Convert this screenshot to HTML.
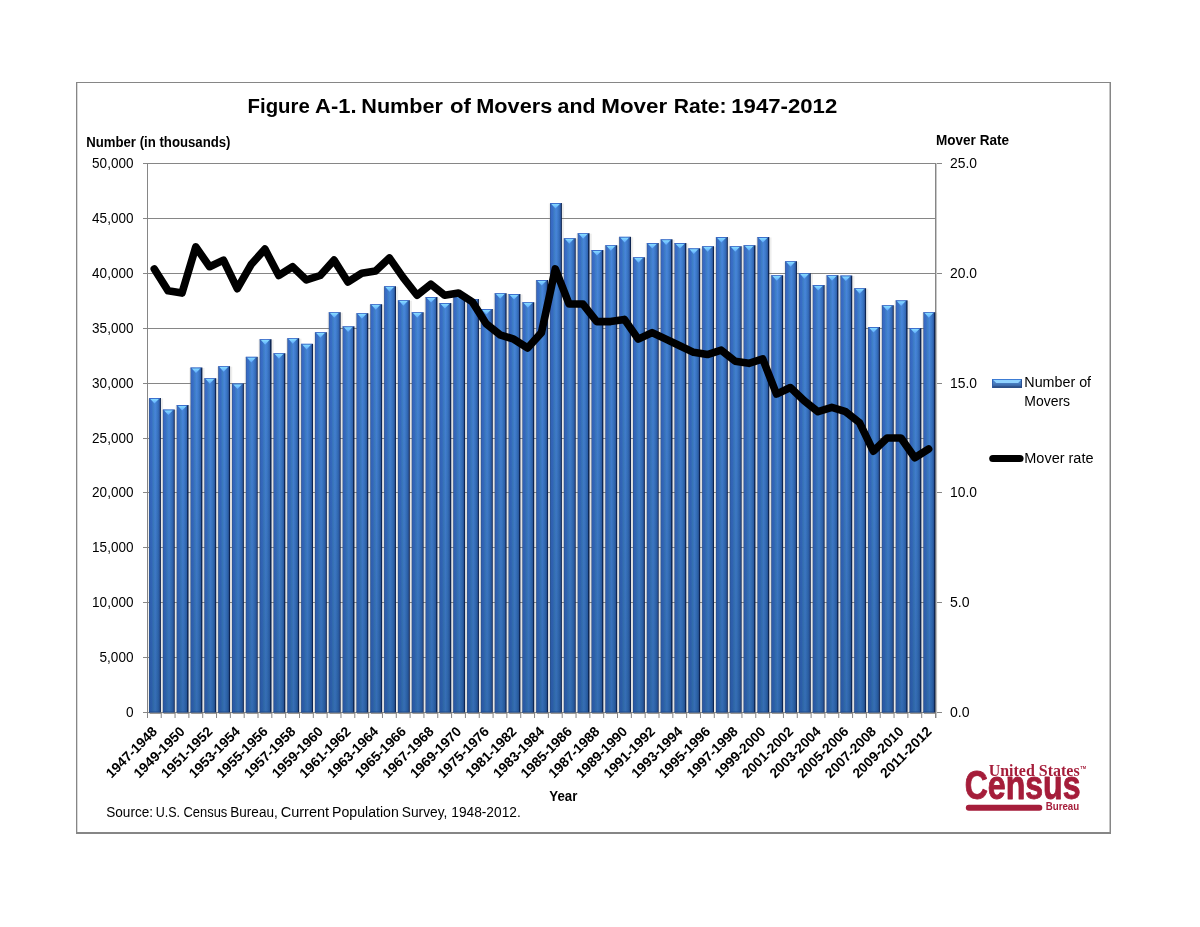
<!DOCTYPE html>
<html><head><meta charset="utf-8"><title>Figure A-1. Number of Movers and Mover Rate: 1947-2012</title>
<style>html,body{margin:0;padding:0;background:#fff;}body{width:1200px;height:927px;overflow:hidden;font-family:"Liberation Sans",sans-serif;}svg{display:block;will-change:transform;}text{font-family:"Liberation Sans",sans-serif;fill:#000;}</style>
</head><body>
<svg width="1200" height="927" viewBox="0 0 1200 927">
<defs>
<linearGradient id="bg" x1="0" y1="0" x2="1" y2="0"><stop offset="0" stop-color="#33528c"/><stop offset="0.09" stop-color="#376ac2"/><stop offset="0.22" stop-color="#396ec8"/><stop offset="0.36" stop-color="#3f80c6"/><stop offset="0.52" stop-color="#4885dc"/><stop offset="0.68" stop-color="#3d7bc8"/><stop offset="0.82" stop-color="#3367b8"/><stop offset="0.905" stop-color="#2a5090"/><stop offset="0.91" stop-color="#0e2855"/><stop offset="1" stop-color="#0c2350"/></linearGradient>
<linearGradient id="tg" x1="0" y1="0" x2="0" y2="1"><stop offset="0" stop-color="#86dcff"/><stop offset="1" stop-color="#5fa6ff"/></linearGradient>
<linearGradient id="lg" x1="0" y1="0" x2="0" y2="1"><stop offset="0" stop-color="#3a78d0"/><stop offset="0.12" stop-color="#3f80d8"/><stop offset="0.45" stop-color="#4a80c4"/><stop offset="0.74" stop-color="#3a68a8"/><stop offset="0.8" stop-color="#2f5590"/><stop offset="1" stop-color="#2b4d84"/></linearGradient>
<linearGradient id="vg" x1="0" y1="0" x2="0" y2="1"><stop offset="0" stop-color="#0a325a" stop-opacity="0"/><stop offset="1" stop-color="#0a325a" stop-opacity="0.30"/></linearGradient>
</defs>
<rect x="0" y="0" width="1200" height="927" fill="#ffffff"/>
<g shape-rendering="crispEdges">
<rect x="76" y="82" width="1035" height="1" fill="#868686"/>
<rect x="76" y="82" width="1" height="752" fill="#868686"/>
<rect x="77" y="83" width="1" height="749" fill="#d9d9d9"/>
<rect x="1110" y="82" width="1" height="752" fill="#868686"/>
<rect x="1109" y="83" width="1" height="749" fill="#c4c4c4"/>
<rect x="76" y="832" width="1035" height="2" fill="#868686"/>
<rect x="143" y="163" width="799" height="1" fill="#868686"/>
<rect x="143" y="218" width="793" height="1" fill="#868686"/>
<rect x="143" y="273" width="799" height="1" fill="#868686"/>
<rect x="143" y="328" width="793" height="1" fill="#868686"/>
<rect x="143" y="383" width="799" height="1" fill="#868686"/>
<rect x="143" y="438" width="793" height="1" fill="#868686"/>
<rect x="143" y="492" width="799" height="1" fill="#868686"/>
<rect x="143" y="547" width="793" height="1" fill="#868686"/>
<rect x="143" y="602" width="799" height="1" fill="#868686"/>
<rect x="143" y="657" width="793" height="1" fill="#868686"/>
<rect x="143" y="712" width="799" height="1" fill="#868686"/>
<rect x="147" y="163" width="1" height="555" fill="#868686"/>
<rect x="935" y="163" width="1" height="555" fill="#868686"/>
<rect x="936" y="163" width="1" height="555" fill="#c8c8c8"/>
</g>
<g stroke="#868686" stroke-width="1">
<line x1="161.23" y1="712" x2="161.23" y2="718"/>
<line x1="175.05" y1="712" x2="175.05" y2="718"/>
<line x1="188.88" y1="712" x2="188.88" y2="718"/>
<line x1="202.71" y1="712" x2="202.71" y2="718"/>
<line x1="216.54" y1="712" x2="216.54" y2="718"/>
<line x1="230.36" y1="712" x2="230.36" y2="718"/>
<line x1="244.19" y1="712" x2="244.19" y2="718"/>
<line x1="258.02" y1="712" x2="258.02" y2="718"/>
<line x1="271.84" y1="712" x2="271.84" y2="718"/>
<line x1="285.67" y1="712" x2="285.67" y2="718"/>
<line x1="299.50" y1="712" x2="299.50" y2="718"/>
<line x1="313.32" y1="712" x2="313.32" y2="718"/>
<line x1="327.15" y1="712" x2="327.15" y2="718"/>
<line x1="340.98" y1="712" x2="340.98" y2="718"/>
<line x1="354.81" y1="712" x2="354.81" y2="718"/>
<line x1="368.63" y1="712" x2="368.63" y2="718"/>
<line x1="382.46" y1="712" x2="382.46" y2="718"/>
<line x1="396.29" y1="712" x2="396.29" y2="718"/>
<line x1="410.11" y1="712" x2="410.11" y2="718"/>
<line x1="423.94" y1="712" x2="423.94" y2="718"/>
<line x1="437.77" y1="712" x2="437.77" y2="718"/>
<line x1="451.59" y1="712" x2="451.59" y2="718"/>
<line x1="465.42" y1="712" x2="465.42" y2="718"/>
<line x1="479.25" y1="712" x2="479.25" y2="718"/>
<line x1="493.08" y1="712" x2="493.08" y2="718"/>
<line x1="506.90" y1="712" x2="506.90" y2="718"/>
<line x1="520.73" y1="712" x2="520.73" y2="718"/>
<line x1="534.56" y1="712" x2="534.56" y2="718"/>
<line x1="548.38" y1="712" x2="548.38" y2="718"/>
<line x1="562.21" y1="712" x2="562.21" y2="718"/>
<line x1="576.04" y1="712" x2="576.04" y2="718"/>
<line x1="589.86" y1="712" x2="589.86" y2="718"/>
<line x1="603.69" y1="712" x2="603.69" y2="718"/>
<line x1="617.52" y1="712" x2="617.52" y2="718"/>
<line x1="631.35" y1="712" x2="631.35" y2="718"/>
<line x1="645.17" y1="712" x2="645.17" y2="718"/>
<line x1="659.00" y1="712" x2="659.00" y2="718"/>
<line x1="672.83" y1="712" x2="672.83" y2="718"/>
<line x1="686.65" y1="712" x2="686.65" y2="718"/>
<line x1="700.48" y1="712" x2="700.48" y2="718"/>
<line x1="714.31" y1="712" x2="714.31" y2="718"/>
<line x1="728.13" y1="712" x2="728.13" y2="718"/>
<line x1="741.96" y1="712" x2="741.96" y2="718"/>
<line x1="755.79" y1="712" x2="755.79" y2="718"/>
<line x1="769.62" y1="712" x2="769.62" y2="718"/>
<line x1="783.44" y1="712" x2="783.44" y2="718"/>
<line x1="797.27" y1="712" x2="797.27" y2="718"/>
<line x1="811.10" y1="712" x2="811.10" y2="718"/>
<line x1="824.92" y1="712" x2="824.92" y2="718"/>
<line x1="838.75" y1="712" x2="838.75" y2="718"/>
<line x1="852.58" y1="712" x2="852.58" y2="718"/>
<line x1="866.40" y1="712" x2="866.40" y2="718"/>
<line x1="880.23" y1="712" x2="880.23" y2="718"/>
<line x1="894.06" y1="712" x2="894.06" y2="718"/>
<line x1="907.88" y1="712" x2="907.88" y2="718"/>
<line x1="921.71" y1="712" x2="921.71" y2="718"/>
</g>
<g fill="#8a847e" fill-opacity="0.14">
<rect x="147.82" y="398.5" width="15.30" height="315.1"/>
<rect x="161.65" y="410.0" width="15.30" height="303.6"/>
<rect x="175.47" y="405.5" width="15.30" height="308.1"/>
<rect x="189.30" y="368.0" width="15.30" height="345.6"/>
<rect x="203.13" y="378.7" width="15.30" height="334.9"/>
<rect x="216.96" y="366.7" width="15.30" height="346.9"/>
<rect x="230.78" y="384.0" width="15.30" height="329.6"/>
<rect x="244.61" y="357.3" width="15.30" height="356.3"/>
<rect x="258.44" y="339.7" width="15.30" height="373.9"/>
<rect x="272.26" y="353.7" width="15.30" height="359.9"/>
<rect x="286.09" y="338.7" width="15.30" height="374.9"/>
<rect x="299.92" y="344.3" width="15.30" height="369.3"/>
<rect x="313.74" y="332.7" width="15.30" height="380.9"/>
<rect x="327.57" y="312.7" width="15.30" height="400.9"/>
<rect x="341.40" y="326.8" width="15.30" height="386.8"/>
<rect x="355.23" y="313.7" width="15.30" height="399.9"/>
<rect x="369.05" y="304.7" width="15.30" height="408.9"/>
<rect x="382.88" y="286.7" width="15.30" height="426.9"/>
<rect x="396.71" y="300.7" width="15.30" height="412.9"/>
<rect x="410.53" y="312.7" width="15.30" height="400.9"/>
<rect x="424.36" y="297.5" width="15.30" height="416.1"/>
<rect x="438.19" y="303.5" width="15.30" height="410.1"/>
<rect x="452.01" y="293.7" width="15.30" height="419.9"/>
<rect x="465.84" y="299.5" width="15.30" height="414.1"/>
<rect x="479.67" y="309.5" width="15.30" height="404.1"/>
<rect x="493.50" y="293.7" width="15.30" height="419.9"/>
<rect x="507.32" y="294.5" width="15.30" height="419.1"/>
<rect x="521.15" y="302.7" width="15.30" height="410.9"/>
<rect x="534.98" y="280.5" width="15.30" height="433.1"/>
<rect x="548.80" y="203.5" width="15.30" height="510.1"/>
<rect x="562.63" y="238.7" width="15.30" height="474.9"/>
<rect x="576.46" y="233.7" width="15.30" height="479.9"/>
<rect x="590.28" y="250.5" width="15.30" height="463.1"/>
<rect x="604.11" y="245.7" width="15.30" height="467.9"/>
<rect x="617.94" y="237.3" width="15.30" height="476.3"/>
<rect x="631.76" y="257.7" width="15.30" height="455.9"/>
<rect x="645.59" y="243.5" width="15.30" height="470.1"/>
<rect x="659.42" y="239.8" width="15.30" height="473.8"/>
<rect x="673.25" y="243.5" width="15.30" height="470.1"/>
<rect x="687.07" y="248.8" width="15.30" height="464.8"/>
<rect x="700.90" y="246.7" width="15.30" height="466.9"/>
<rect x="714.73" y="237.5" width="15.30" height="476.1"/>
<rect x="728.55" y="246.7" width="15.30" height="466.9"/>
<rect x="742.38" y="245.7" width="15.30" height="467.9"/>
<rect x="756.21" y="237.5" width="15.30" height="476.1"/>
<rect x="770.03" y="275.7" width="15.30" height="437.9"/>
<rect x="783.86" y="261.7" width="15.30" height="451.9"/>
<rect x="797.69" y="273.7" width="15.30" height="439.9"/>
<rect x="811.52" y="285.5" width="15.30" height="428.1"/>
<rect x="825.34" y="275.7" width="15.30" height="437.9"/>
<rect x="839.17" y="276.0" width="15.30" height="437.6"/>
<rect x="853.00" y="288.7" width="15.30" height="424.9"/>
<rect x="866.82" y="327.5" width="15.30" height="386.1"/>
<rect x="880.65" y="305.7" width="15.30" height="407.9"/>
<rect x="894.48" y="300.8" width="15.30" height="412.8"/>
<rect x="908.30" y="328.5" width="15.30" height="385.1"/>
<rect x="922.13" y="312.7" width="15.30" height="400.9"/>
</g>
<rect x="149.02" y="398.0" width="11.90" height="314.6" fill="url(#bg)"/>
<rect x="149.02" y="398.0" width="10.85" height="314.6" fill="url(#vg)"/>
<rect x="149.02" y="398.0" width="10.85" height="1" fill="#3c6ccc" fill-opacity="0.75"/>
<path d="M150.32 398.9 L158.82 398.9 L154.47 403.6 Z" fill="url(#tg)"/>
<rect x="149.62" y="712.6" width="11.70" height="1.5" rx="0.7" fill="#8c8782" fill-opacity="0.85"/>
<rect x="149.02" y="711.2" width="10.85" height="1.4" fill="#1f4a8c" fill-opacity="0.5"/>
<rect x="162.85" y="409.5" width="11.90" height="303.1" fill="url(#bg)"/>
<rect x="162.85" y="409.5" width="10.85" height="303.1" fill="url(#vg)"/>
<rect x="162.85" y="409.5" width="10.85" height="1" fill="#3c6ccc" fill-opacity="0.75"/>
<path d="M164.15 410.4 L172.65 410.4 L168.30 415.1 Z" fill="url(#tg)"/>
<rect x="163.45" y="712.6" width="11.70" height="1.5" rx="0.7" fill="#8c8782" fill-opacity="0.85"/>
<rect x="162.85" y="711.2" width="10.85" height="1.4" fill="#1f4a8c" fill-opacity="0.5"/>
<rect x="176.67" y="405.0" width="11.90" height="307.6" fill="url(#bg)"/>
<rect x="176.67" y="405.0" width="10.85" height="307.6" fill="url(#vg)"/>
<rect x="176.67" y="405.0" width="10.85" height="1" fill="#3c6ccc" fill-opacity="0.75"/>
<path d="M177.97 405.9 L186.47 405.9 L182.12 410.6 Z" fill="url(#tg)"/>
<rect x="177.27" y="712.6" width="11.70" height="1.5" rx="0.7" fill="#8c8782" fill-opacity="0.85"/>
<rect x="176.67" y="711.2" width="10.85" height="1.4" fill="#1f4a8c" fill-opacity="0.5"/>
<rect x="190.50" y="367.5" width="11.90" height="345.1" fill="url(#bg)"/>
<rect x="190.50" y="367.5" width="10.85" height="345.1" fill="url(#vg)"/>
<rect x="190.50" y="367.5" width="10.85" height="1" fill="#3c6ccc" fill-opacity="0.75"/>
<path d="M191.80 368.4 L200.30 368.4 L195.95 373.1 Z" fill="url(#tg)"/>
<rect x="191.10" y="712.6" width="11.70" height="1.5" rx="0.7" fill="#8c8782" fill-opacity="0.85"/>
<rect x="190.50" y="711.2" width="10.85" height="1.4" fill="#1f4a8c" fill-opacity="0.5"/>
<rect x="204.33" y="378.2" width="11.90" height="334.4" fill="url(#bg)"/>
<rect x="204.33" y="378.2" width="10.85" height="334.4" fill="url(#vg)"/>
<rect x="204.33" y="378.2" width="10.85" height="1" fill="#3c6ccc" fill-opacity="0.75"/>
<path d="M205.63 379.1 L214.13 379.1 L209.78 383.8 Z" fill="url(#tg)"/>
<rect x="204.93" y="712.6" width="11.70" height="1.5" rx="0.7" fill="#8c8782" fill-opacity="0.85"/>
<rect x="204.33" y="711.2" width="10.85" height="1.4" fill="#1f4a8c" fill-opacity="0.5"/>
<rect x="218.16" y="366.2" width="11.90" height="346.4" fill="url(#bg)"/>
<rect x="218.16" y="366.2" width="10.85" height="346.4" fill="url(#vg)"/>
<rect x="218.16" y="366.2" width="10.85" height="1" fill="#3c6ccc" fill-opacity="0.75"/>
<path d="M219.46 367.1 L227.96 367.1 L223.61 371.8 Z" fill="url(#tg)"/>
<rect x="218.76" y="712.6" width="11.70" height="1.5" rx="0.7" fill="#8c8782" fill-opacity="0.85"/>
<rect x="218.16" y="711.2" width="10.85" height="1.4" fill="#1f4a8c" fill-opacity="0.5"/>
<rect x="231.98" y="383.5" width="11.90" height="329.1" fill="url(#bg)"/>
<rect x="231.98" y="383.5" width="10.85" height="329.1" fill="url(#vg)"/>
<rect x="231.98" y="383.5" width="10.85" height="1" fill="#3c6ccc" fill-opacity="0.75"/>
<path d="M233.28 384.4 L241.78 384.4 L237.43 389.1 Z" fill="url(#tg)"/>
<rect x="232.58" y="712.6" width="11.70" height="1.5" rx="0.7" fill="#8c8782" fill-opacity="0.85"/>
<rect x="231.98" y="711.2" width="10.85" height="1.4" fill="#1f4a8c" fill-opacity="0.5"/>
<rect x="245.81" y="356.8" width="11.90" height="355.8" fill="url(#bg)"/>
<rect x="245.81" y="356.8" width="10.85" height="355.8" fill="url(#vg)"/>
<rect x="245.81" y="356.8" width="10.85" height="1" fill="#3c6ccc" fill-opacity="0.75"/>
<path d="M247.11 357.7 L255.61 357.7 L251.26 362.4 Z" fill="url(#tg)"/>
<rect x="246.41" y="712.6" width="11.70" height="1.5" rx="0.7" fill="#8c8782" fill-opacity="0.85"/>
<rect x="245.81" y="711.2" width="10.85" height="1.4" fill="#1f4a8c" fill-opacity="0.5"/>
<rect x="259.64" y="339.2" width="11.90" height="373.4" fill="url(#bg)"/>
<rect x="259.64" y="339.2" width="10.85" height="373.4" fill="url(#vg)"/>
<rect x="259.64" y="339.2" width="10.85" height="1" fill="#3c6ccc" fill-opacity="0.75"/>
<path d="M260.94 340.1 L269.44 340.1 L265.09 344.8 Z" fill="url(#tg)"/>
<rect x="260.24" y="712.6" width="11.70" height="1.5" rx="0.7" fill="#8c8782" fill-opacity="0.85"/>
<rect x="259.64" y="711.2" width="10.85" height="1.4" fill="#1f4a8c" fill-opacity="0.5"/>
<rect x="273.46" y="353.2" width="11.90" height="359.4" fill="url(#bg)"/>
<rect x="273.46" y="353.2" width="10.85" height="359.4" fill="url(#vg)"/>
<rect x="273.46" y="353.2" width="10.85" height="1" fill="#3c6ccc" fill-opacity="0.75"/>
<path d="M274.76 354.1 L283.26 354.1 L278.91 358.8 Z" fill="url(#tg)"/>
<rect x="274.06" y="712.6" width="11.70" height="1.5" rx="0.7" fill="#8c8782" fill-opacity="0.85"/>
<rect x="273.46" y="711.2" width="10.85" height="1.4" fill="#1f4a8c" fill-opacity="0.5"/>
<rect x="287.29" y="338.2" width="11.90" height="374.4" fill="url(#bg)"/>
<rect x="287.29" y="338.2" width="10.85" height="374.4" fill="url(#vg)"/>
<rect x="287.29" y="338.2" width="10.85" height="1" fill="#3c6ccc" fill-opacity="0.75"/>
<path d="M288.59 339.1 L297.09 339.1 L292.74 343.8 Z" fill="url(#tg)"/>
<rect x="287.89" y="712.6" width="11.70" height="1.5" rx="0.7" fill="#8c8782" fill-opacity="0.85"/>
<rect x="287.29" y="711.2" width="10.85" height="1.4" fill="#1f4a8c" fill-opacity="0.5"/>
<rect x="301.12" y="343.8" width="11.90" height="368.8" fill="url(#bg)"/>
<rect x="301.12" y="343.8" width="10.85" height="368.8" fill="url(#vg)"/>
<rect x="301.12" y="343.8" width="10.85" height="1" fill="#3c6ccc" fill-opacity="0.75"/>
<path d="M302.42 344.7 L310.92 344.7 L306.57 349.4 Z" fill="url(#tg)"/>
<rect x="301.72" y="712.6" width="11.70" height="1.5" rx="0.7" fill="#8c8782" fill-opacity="0.85"/>
<rect x="301.12" y="711.2" width="10.85" height="1.4" fill="#1f4a8c" fill-opacity="0.5"/>
<rect x="314.94" y="332.2" width="11.90" height="380.4" fill="url(#bg)"/>
<rect x="314.94" y="332.2" width="10.85" height="380.4" fill="url(#vg)"/>
<rect x="314.94" y="332.2" width="10.85" height="1" fill="#3c6ccc" fill-opacity="0.75"/>
<path d="M316.24 333.1 L324.74 333.1 L320.39 337.8 Z" fill="url(#tg)"/>
<rect x="315.54" y="712.6" width="11.70" height="1.5" rx="0.7" fill="#8c8782" fill-opacity="0.85"/>
<rect x="314.94" y="711.2" width="10.85" height="1.4" fill="#1f4a8c" fill-opacity="0.5"/>
<rect x="328.77" y="312.2" width="11.90" height="400.4" fill="url(#bg)"/>
<rect x="328.77" y="312.2" width="10.85" height="400.4" fill="url(#vg)"/>
<rect x="328.77" y="312.2" width="10.85" height="1" fill="#3c6ccc" fill-opacity="0.75"/>
<path d="M330.07 313.1 L338.57 313.1 L334.22 317.8 Z" fill="url(#tg)"/>
<rect x="329.37" y="712.6" width="11.70" height="1.5" rx="0.7" fill="#8c8782" fill-opacity="0.85"/>
<rect x="328.77" y="711.2" width="10.85" height="1.4" fill="#1f4a8c" fill-opacity="0.5"/>
<rect x="342.60" y="326.3" width="11.90" height="386.3" fill="url(#bg)"/>
<rect x="342.60" y="326.3" width="10.85" height="386.3" fill="url(#vg)"/>
<rect x="342.60" y="326.3" width="10.85" height="1" fill="#3c6ccc" fill-opacity="0.75"/>
<path d="M343.90 327.2 L352.40 327.2 L348.05 331.9 Z" fill="url(#tg)"/>
<rect x="343.20" y="712.6" width="11.70" height="1.5" rx="0.7" fill="#8c8782" fill-opacity="0.85"/>
<rect x="342.60" y="711.2" width="10.85" height="1.4" fill="#1f4a8c" fill-opacity="0.5"/>
<rect x="356.43" y="313.2" width="11.90" height="399.4" fill="url(#bg)"/>
<rect x="356.43" y="313.2" width="10.85" height="399.4" fill="url(#vg)"/>
<rect x="356.43" y="313.2" width="10.85" height="1" fill="#3c6ccc" fill-opacity="0.75"/>
<path d="M357.73 314.1 L366.22 314.1 L361.88 318.8 Z" fill="url(#tg)"/>
<rect x="357.03" y="712.6" width="11.70" height="1.5" rx="0.7" fill="#8c8782" fill-opacity="0.85"/>
<rect x="356.43" y="711.2" width="10.85" height="1.4" fill="#1f4a8c" fill-opacity="0.5"/>
<rect x="370.25" y="304.2" width="11.90" height="408.4" fill="url(#bg)"/>
<rect x="370.25" y="304.2" width="10.85" height="408.4" fill="url(#vg)"/>
<rect x="370.25" y="304.2" width="10.85" height="1" fill="#3c6ccc" fill-opacity="0.75"/>
<path d="M371.55 305.1 L380.05 305.1 L375.70 309.8 Z" fill="url(#tg)"/>
<rect x="370.85" y="712.6" width="11.70" height="1.5" rx="0.7" fill="#8c8782" fill-opacity="0.85"/>
<rect x="370.25" y="711.2" width="10.85" height="1.4" fill="#1f4a8c" fill-opacity="0.5"/>
<rect x="384.08" y="286.2" width="11.90" height="426.4" fill="url(#bg)"/>
<rect x="384.08" y="286.2" width="10.85" height="426.4" fill="url(#vg)"/>
<rect x="384.08" y="286.2" width="10.85" height="1" fill="#3c6ccc" fill-opacity="0.75"/>
<path d="M385.38 287.1 L393.88 287.1 L389.53 291.8 Z" fill="url(#tg)"/>
<rect x="384.68" y="712.6" width="11.70" height="1.5" rx="0.7" fill="#8c8782" fill-opacity="0.85"/>
<rect x="384.08" y="711.2" width="10.85" height="1.4" fill="#1f4a8c" fill-opacity="0.5"/>
<rect x="397.91" y="300.2" width="11.90" height="412.4" fill="url(#bg)"/>
<rect x="397.91" y="300.2" width="10.85" height="412.4" fill="url(#vg)"/>
<rect x="397.91" y="300.2" width="10.85" height="1" fill="#3c6ccc" fill-opacity="0.75"/>
<path d="M399.21 301.1 L407.71 301.1 L403.36 305.8 Z" fill="url(#tg)"/>
<rect x="398.51" y="712.6" width="11.70" height="1.5" rx="0.7" fill="#8c8782" fill-opacity="0.85"/>
<rect x="397.91" y="711.2" width="10.85" height="1.4" fill="#1f4a8c" fill-opacity="0.5"/>
<rect x="411.73" y="312.2" width="11.90" height="400.4" fill="url(#bg)"/>
<rect x="411.73" y="312.2" width="10.85" height="400.4" fill="url(#vg)"/>
<rect x="411.73" y="312.2" width="10.85" height="1" fill="#3c6ccc" fill-opacity="0.75"/>
<path d="M413.03 313.1 L421.53 313.1 L417.18 317.8 Z" fill="url(#tg)"/>
<rect x="412.33" y="712.6" width="11.70" height="1.5" rx="0.7" fill="#8c8782" fill-opacity="0.85"/>
<rect x="411.73" y="711.2" width="10.85" height="1.4" fill="#1f4a8c" fill-opacity="0.5"/>
<rect x="425.56" y="297.0" width="11.90" height="415.6" fill="url(#bg)"/>
<rect x="425.56" y="297.0" width="10.85" height="415.6" fill="url(#vg)"/>
<rect x="425.56" y="297.0" width="10.85" height="1" fill="#3c6ccc" fill-opacity="0.75"/>
<path d="M426.86 297.9 L435.36 297.9 L431.01 302.6 Z" fill="url(#tg)"/>
<rect x="426.16" y="712.6" width="11.70" height="1.5" rx="0.7" fill="#8c8782" fill-opacity="0.85"/>
<rect x="425.56" y="711.2" width="10.85" height="1.4" fill="#1f4a8c" fill-opacity="0.5"/>
<rect x="439.39" y="303.0" width="11.90" height="409.6" fill="url(#bg)"/>
<rect x="439.39" y="303.0" width="10.85" height="409.6" fill="url(#vg)"/>
<rect x="439.39" y="303.0" width="10.85" height="1" fill="#3c6ccc" fill-opacity="0.75"/>
<path d="M440.69 303.9 L449.19 303.9 L444.84 308.6 Z" fill="url(#tg)"/>
<rect x="439.99" y="712.6" width="11.70" height="1.5" rx="0.7" fill="#8c8782" fill-opacity="0.85"/>
<rect x="439.39" y="711.2" width="10.85" height="1.4" fill="#1f4a8c" fill-opacity="0.5"/>
<rect x="453.21" y="293.2" width="11.90" height="419.4" fill="url(#bg)"/>
<rect x="453.21" y="293.2" width="10.85" height="419.4" fill="url(#vg)"/>
<rect x="453.21" y="293.2" width="10.85" height="1" fill="#3c6ccc" fill-opacity="0.75"/>
<path d="M454.51 294.1 L463.01 294.1 L458.66 298.8 Z" fill="url(#tg)"/>
<rect x="453.81" y="712.6" width="11.70" height="1.5" rx="0.7" fill="#8c8782" fill-opacity="0.85"/>
<rect x="453.21" y="711.2" width="10.85" height="1.4" fill="#1f4a8c" fill-opacity="0.5"/>
<rect x="467.04" y="299.0" width="11.90" height="413.6" fill="url(#bg)"/>
<rect x="467.04" y="299.0" width="10.85" height="413.6" fill="url(#vg)"/>
<rect x="467.04" y="299.0" width="10.85" height="1" fill="#3c6ccc" fill-opacity="0.75"/>
<path d="M468.34 299.9 L476.84 299.9 L472.49 304.6 Z" fill="url(#tg)"/>
<rect x="467.64" y="712.6" width="11.70" height="1.5" rx="0.7" fill="#8c8782" fill-opacity="0.85"/>
<rect x="467.04" y="711.2" width="10.85" height="1.4" fill="#1f4a8c" fill-opacity="0.5"/>
<rect x="480.87" y="309.0" width="11.90" height="403.6" fill="url(#bg)"/>
<rect x="480.87" y="309.0" width="10.85" height="403.6" fill="url(#vg)"/>
<rect x="480.87" y="309.0" width="10.85" height="1" fill="#3c6ccc" fill-opacity="0.75"/>
<path d="M482.17 309.9 L490.67 309.9 L486.32 314.6 Z" fill="url(#tg)"/>
<rect x="481.47" y="712.6" width="11.70" height="1.5" rx="0.7" fill="#8c8782" fill-opacity="0.85"/>
<rect x="480.87" y="711.2" width="10.85" height="1.4" fill="#1f4a8c" fill-opacity="0.5"/>
<rect x="494.70" y="293.2" width="11.90" height="419.4" fill="url(#bg)"/>
<rect x="494.70" y="293.2" width="10.85" height="419.4" fill="url(#vg)"/>
<rect x="494.70" y="293.2" width="10.85" height="1" fill="#3c6ccc" fill-opacity="0.75"/>
<path d="M496.00 294.1 L504.50 294.1 L500.15 298.8 Z" fill="url(#tg)"/>
<rect x="495.30" y="712.6" width="11.70" height="1.5" rx="0.7" fill="#8c8782" fill-opacity="0.85"/>
<rect x="494.70" y="711.2" width="10.85" height="1.4" fill="#1f4a8c" fill-opacity="0.5"/>
<rect x="508.52" y="294.0" width="11.90" height="418.6" fill="url(#bg)"/>
<rect x="508.52" y="294.0" width="10.85" height="418.6" fill="url(#vg)"/>
<rect x="508.52" y="294.0" width="10.85" height="1" fill="#3c6ccc" fill-opacity="0.75"/>
<path d="M509.82 294.9 L518.32 294.9 L513.97 299.6 Z" fill="url(#tg)"/>
<rect x="509.12" y="712.6" width="11.70" height="1.5" rx="0.7" fill="#8c8782" fill-opacity="0.85"/>
<rect x="508.52" y="711.2" width="10.85" height="1.4" fill="#1f4a8c" fill-opacity="0.5"/>
<rect x="522.35" y="302.2" width="11.90" height="410.4" fill="url(#bg)"/>
<rect x="522.35" y="302.2" width="10.85" height="410.4" fill="url(#vg)"/>
<rect x="522.35" y="302.2" width="10.85" height="1" fill="#3c6ccc" fill-opacity="0.75"/>
<path d="M523.65 303.1 L532.15 303.1 L527.80 307.8 Z" fill="url(#tg)"/>
<rect x="522.95" y="712.6" width="11.70" height="1.5" rx="0.7" fill="#8c8782" fill-opacity="0.85"/>
<rect x="522.35" y="711.2" width="10.85" height="1.4" fill="#1f4a8c" fill-opacity="0.5"/>
<rect x="536.18" y="280.0" width="11.90" height="432.6" fill="url(#bg)"/>
<rect x="536.18" y="280.0" width="10.85" height="432.6" fill="url(#vg)"/>
<rect x="536.18" y="280.0" width="10.85" height="1" fill="#3c6ccc" fill-opacity="0.75"/>
<path d="M537.48 280.9 L545.98 280.9 L541.63 285.6 Z" fill="url(#tg)"/>
<rect x="536.78" y="712.6" width="11.70" height="1.5" rx="0.7" fill="#8c8782" fill-opacity="0.85"/>
<rect x="536.18" y="711.2" width="10.85" height="1.4" fill="#1f4a8c" fill-opacity="0.5"/>
<rect x="550.00" y="203.0" width="11.90" height="509.6" fill="url(#bg)"/>
<rect x="550.00" y="203.0" width="10.85" height="509.6" fill="url(#vg)"/>
<rect x="550.00" y="203.0" width="10.85" height="1" fill="#3c6ccc" fill-opacity="0.75"/>
<path d="M551.30 203.9 L559.80 203.9 L555.45 208.6 Z" fill="url(#tg)"/>
<rect x="550.60" y="712.6" width="11.70" height="1.5" rx="0.7" fill="#8c8782" fill-opacity="0.85"/>
<rect x="550.00" y="711.2" width="10.85" height="1.4" fill="#1f4a8c" fill-opacity="0.5"/>
<rect x="563.83" y="238.2" width="11.90" height="474.4" fill="url(#bg)"/>
<rect x="563.83" y="238.2" width="10.85" height="474.4" fill="url(#vg)"/>
<rect x="563.83" y="238.2" width="10.85" height="1" fill="#3c6ccc" fill-opacity="0.75"/>
<path d="M565.13 239.1 L573.63 239.1 L569.28 243.8 Z" fill="url(#tg)"/>
<rect x="564.43" y="712.6" width="11.70" height="1.5" rx="0.7" fill="#8c8782" fill-opacity="0.85"/>
<rect x="563.83" y="711.2" width="10.85" height="1.4" fill="#1f4a8c" fill-opacity="0.5"/>
<rect x="577.66" y="233.2" width="11.90" height="479.4" fill="url(#bg)"/>
<rect x="577.66" y="233.2" width="10.85" height="479.4" fill="url(#vg)"/>
<rect x="577.66" y="233.2" width="10.85" height="1" fill="#3c6ccc" fill-opacity="0.75"/>
<path d="M578.96 234.1 L587.46 234.1 L583.11 238.8 Z" fill="url(#tg)"/>
<rect x="578.26" y="712.6" width="11.70" height="1.5" rx="0.7" fill="#8c8782" fill-opacity="0.85"/>
<rect x="577.66" y="711.2" width="10.85" height="1.4" fill="#1f4a8c" fill-opacity="0.5"/>
<rect x="591.48" y="250.0" width="11.90" height="462.6" fill="url(#bg)"/>
<rect x="591.48" y="250.0" width="10.85" height="462.6" fill="url(#vg)"/>
<rect x="591.48" y="250.0" width="10.85" height="1" fill="#3c6ccc" fill-opacity="0.75"/>
<path d="M592.78 250.9 L601.28 250.9 L596.93 255.6 Z" fill="url(#tg)"/>
<rect x="592.08" y="712.6" width="11.70" height="1.5" rx="0.7" fill="#8c8782" fill-opacity="0.85"/>
<rect x="591.48" y="711.2" width="10.85" height="1.4" fill="#1f4a8c" fill-opacity="0.5"/>
<rect x="605.31" y="245.2" width="11.90" height="467.4" fill="url(#bg)"/>
<rect x="605.31" y="245.2" width="10.85" height="467.4" fill="url(#vg)"/>
<rect x="605.31" y="245.2" width="10.85" height="1" fill="#3c6ccc" fill-opacity="0.75"/>
<path d="M606.61 246.1 L615.11 246.1 L610.76 250.8 Z" fill="url(#tg)"/>
<rect x="605.91" y="712.6" width="11.70" height="1.5" rx="0.7" fill="#8c8782" fill-opacity="0.85"/>
<rect x="605.31" y="711.2" width="10.85" height="1.4" fill="#1f4a8c" fill-opacity="0.5"/>
<rect x="619.14" y="236.8" width="11.90" height="475.8" fill="url(#bg)"/>
<rect x="619.14" y="236.8" width="10.85" height="475.8" fill="url(#vg)"/>
<rect x="619.14" y="236.8" width="10.85" height="1" fill="#3c6ccc" fill-opacity="0.75"/>
<path d="M620.44 237.7 L628.94 237.7 L624.59 242.4 Z" fill="url(#tg)"/>
<rect x="619.74" y="712.6" width="11.70" height="1.5" rx="0.7" fill="#8c8782" fill-opacity="0.85"/>
<rect x="619.14" y="711.2" width="10.85" height="1.4" fill="#1f4a8c" fill-opacity="0.5"/>
<rect x="632.97" y="257.2" width="11.90" height="455.4" fill="url(#bg)"/>
<rect x="632.97" y="257.2" width="10.85" height="455.4" fill="url(#vg)"/>
<rect x="632.97" y="257.2" width="10.85" height="1" fill="#3c6ccc" fill-opacity="0.75"/>
<path d="M634.26 258.1 L642.76 258.1 L638.42 262.8 Z" fill="url(#tg)"/>
<rect x="633.57" y="712.6" width="11.70" height="1.5" rx="0.7" fill="#8c8782" fill-opacity="0.85"/>
<rect x="632.97" y="711.2" width="10.85" height="1.4" fill="#1f4a8c" fill-opacity="0.5"/>
<rect x="646.79" y="243.0" width="11.90" height="469.6" fill="url(#bg)"/>
<rect x="646.79" y="243.0" width="10.85" height="469.6" fill="url(#vg)"/>
<rect x="646.79" y="243.0" width="10.85" height="1" fill="#3c6ccc" fill-opacity="0.75"/>
<path d="M648.09 243.9 L656.59 243.9 L652.24 248.6 Z" fill="url(#tg)"/>
<rect x="647.39" y="712.6" width="11.70" height="1.5" rx="0.7" fill="#8c8782" fill-opacity="0.85"/>
<rect x="646.79" y="711.2" width="10.85" height="1.4" fill="#1f4a8c" fill-opacity="0.5"/>
<rect x="660.62" y="239.3" width="11.90" height="473.3" fill="url(#bg)"/>
<rect x="660.62" y="239.3" width="10.85" height="473.3" fill="url(#vg)"/>
<rect x="660.62" y="239.3" width="10.85" height="1" fill="#3c6ccc" fill-opacity="0.75"/>
<path d="M661.92 240.2 L670.42 240.2 L666.07 244.9 Z" fill="url(#tg)"/>
<rect x="661.22" y="712.6" width="11.70" height="1.5" rx="0.7" fill="#8c8782" fill-opacity="0.85"/>
<rect x="660.62" y="711.2" width="10.85" height="1.4" fill="#1f4a8c" fill-opacity="0.5"/>
<rect x="674.45" y="243.0" width="11.90" height="469.6" fill="url(#bg)"/>
<rect x="674.45" y="243.0" width="10.85" height="469.6" fill="url(#vg)"/>
<rect x="674.45" y="243.0" width="10.85" height="1" fill="#3c6ccc" fill-opacity="0.75"/>
<path d="M675.75 243.9 L684.25 243.9 L679.90 248.6 Z" fill="url(#tg)"/>
<rect x="675.05" y="712.6" width="11.70" height="1.5" rx="0.7" fill="#8c8782" fill-opacity="0.85"/>
<rect x="674.45" y="711.2" width="10.85" height="1.4" fill="#1f4a8c" fill-opacity="0.5"/>
<rect x="688.27" y="248.3" width="11.90" height="464.3" fill="url(#bg)"/>
<rect x="688.27" y="248.3" width="10.85" height="464.3" fill="url(#vg)"/>
<rect x="688.27" y="248.3" width="10.85" height="1" fill="#3c6ccc" fill-opacity="0.75"/>
<path d="M689.57 249.2 L698.07 249.2 L693.72 253.9 Z" fill="url(#tg)"/>
<rect x="688.87" y="712.6" width="11.70" height="1.5" rx="0.7" fill="#8c8782" fill-opacity="0.85"/>
<rect x="688.27" y="711.2" width="10.85" height="1.4" fill="#1f4a8c" fill-opacity="0.5"/>
<rect x="702.10" y="246.2" width="11.90" height="466.4" fill="url(#bg)"/>
<rect x="702.10" y="246.2" width="10.85" height="466.4" fill="url(#vg)"/>
<rect x="702.10" y="246.2" width="10.85" height="1" fill="#3c6ccc" fill-opacity="0.75"/>
<path d="M703.40 247.1 L711.90 247.1 L707.55 251.8 Z" fill="url(#tg)"/>
<rect x="702.70" y="712.6" width="11.70" height="1.5" rx="0.7" fill="#8c8782" fill-opacity="0.85"/>
<rect x="702.10" y="711.2" width="10.85" height="1.4" fill="#1f4a8c" fill-opacity="0.5"/>
<rect x="715.93" y="237.0" width="11.90" height="475.6" fill="url(#bg)"/>
<rect x="715.93" y="237.0" width="10.85" height="475.6" fill="url(#vg)"/>
<rect x="715.93" y="237.0" width="10.85" height="1" fill="#3c6ccc" fill-opacity="0.75"/>
<path d="M717.23 237.9 L725.73 237.9 L721.38 242.6 Z" fill="url(#tg)"/>
<rect x="716.53" y="712.6" width="11.70" height="1.5" rx="0.7" fill="#8c8782" fill-opacity="0.85"/>
<rect x="715.93" y="711.2" width="10.85" height="1.4" fill="#1f4a8c" fill-opacity="0.5"/>
<rect x="729.75" y="246.2" width="11.90" height="466.4" fill="url(#bg)"/>
<rect x="729.75" y="246.2" width="10.85" height="466.4" fill="url(#vg)"/>
<rect x="729.75" y="246.2" width="10.85" height="1" fill="#3c6ccc" fill-opacity="0.75"/>
<path d="M731.05 247.1 L739.55 247.1 L735.20 251.8 Z" fill="url(#tg)"/>
<rect x="730.35" y="712.6" width="11.70" height="1.5" rx="0.7" fill="#8c8782" fill-opacity="0.85"/>
<rect x="729.75" y="711.2" width="10.85" height="1.4" fill="#1f4a8c" fill-opacity="0.5"/>
<rect x="743.58" y="245.2" width="11.90" height="467.4" fill="url(#bg)"/>
<rect x="743.58" y="245.2" width="10.85" height="467.4" fill="url(#vg)"/>
<rect x="743.58" y="245.2" width="10.85" height="1" fill="#3c6ccc" fill-opacity="0.75"/>
<path d="M744.88 246.1 L753.38 246.1 L749.03 250.8 Z" fill="url(#tg)"/>
<rect x="744.18" y="712.6" width="11.70" height="1.5" rx="0.7" fill="#8c8782" fill-opacity="0.85"/>
<rect x="743.58" y="711.2" width="10.85" height="1.4" fill="#1f4a8c" fill-opacity="0.5"/>
<rect x="757.41" y="237.0" width="11.90" height="475.6" fill="url(#bg)"/>
<rect x="757.41" y="237.0" width="10.85" height="475.6" fill="url(#vg)"/>
<rect x="757.41" y="237.0" width="10.85" height="1" fill="#3c6ccc" fill-opacity="0.75"/>
<path d="M758.71 237.9 L767.21 237.9 L762.86 242.6 Z" fill="url(#tg)"/>
<rect x="758.01" y="712.6" width="11.70" height="1.5" rx="0.7" fill="#8c8782" fill-opacity="0.85"/>
<rect x="757.41" y="711.2" width="10.85" height="1.4" fill="#1f4a8c" fill-opacity="0.5"/>
<rect x="771.24" y="275.2" width="11.90" height="437.4" fill="url(#bg)"/>
<rect x="771.24" y="275.2" width="10.85" height="437.4" fill="url(#vg)"/>
<rect x="771.24" y="275.2" width="10.85" height="1" fill="#3c6ccc" fill-opacity="0.75"/>
<path d="M772.53 276.1 L781.03 276.1 L776.69 280.8 Z" fill="url(#tg)"/>
<rect x="771.84" y="712.6" width="11.70" height="1.5" rx="0.7" fill="#8c8782" fill-opacity="0.85"/>
<rect x="771.24" y="711.2" width="10.85" height="1.4" fill="#1f4a8c" fill-opacity="0.5"/>
<rect x="785.06" y="261.2" width="11.90" height="451.4" fill="url(#bg)"/>
<rect x="785.06" y="261.2" width="10.85" height="451.4" fill="url(#vg)"/>
<rect x="785.06" y="261.2" width="10.85" height="1" fill="#3c6ccc" fill-opacity="0.75"/>
<path d="M786.36 262.1 L794.86 262.1 L790.51 266.8 Z" fill="url(#tg)"/>
<rect x="785.66" y="712.6" width="11.70" height="1.5" rx="0.7" fill="#8c8782" fill-opacity="0.85"/>
<rect x="785.06" y="711.2" width="10.85" height="1.4" fill="#1f4a8c" fill-opacity="0.5"/>
<rect x="798.89" y="273.2" width="11.90" height="439.4" fill="url(#bg)"/>
<rect x="798.89" y="273.2" width="10.85" height="439.4" fill="url(#vg)"/>
<rect x="798.89" y="273.2" width="10.85" height="1" fill="#3c6ccc" fill-opacity="0.75"/>
<path d="M800.19 274.1 L808.69 274.1 L804.34 278.8 Z" fill="url(#tg)"/>
<rect x="799.49" y="712.6" width="11.70" height="1.5" rx="0.7" fill="#8c8782" fill-opacity="0.85"/>
<rect x="798.89" y="711.2" width="10.85" height="1.4" fill="#1f4a8c" fill-opacity="0.5"/>
<rect x="812.72" y="285.0" width="11.90" height="427.6" fill="url(#bg)"/>
<rect x="812.72" y="285.0" width="10.85" height="427.6" fill="url(#vg)"/>
<rect x="812.72" y="285.0" width="10.85" height="1" fill="#3c6ccc" fill-opacity="0.75"/>
<path d="M814.02 285.9 L822.52 285.9 L818.17 290.6 Z" fill="url(#tg)"/>
<rect x="813.32" y="712.6" width="11.70" height="1.5" rx="0.7" fill="#8c8782" fill-opacity="0.85"/>
<rect x="812.72" y="711.2" width="10.85" height="1.4" fill="#1f4a8c" fill-opacity="0.5"/>
<rect x="826.54" y="275.2" width="11.90" height="437.4" fill="url(#bg)"/>
<rect x="826.54" y="275.2" width="10.85" height="437.4" fill="url(#vg)"/>
<rect x="826.54" y="275.2" width="10.85" height="1" fill="#3c6ccc" fill-opacity="0.75"/>
<path d="M827.84 276.1 L836.34 276.1 L831.99 280.8 Z" fill="url(#tg)"/>
<rect x="827.14" y="712.6" width="11.70" height="1.5" rx="0.7" fill="#8c8782" fill-opacity="0.85"/>
<rect x="826.54" y="711.2" width="10.85" height="1.4" fill="#1f4a8c" fill-opacity="0.5"/>
<rect x="840.37" y="275.5" width="11.90" height="437.1" fill="url(#bg)"/>
<rect x="840.37" y="275.5" width="10.85" height="437.1" fill="url(#vg)"/>
<rect x="840.37" y="275.5" width="10.85" height="1" fill="#3c6ccc" fill-opacity="0.75"/>
<path d="M841.67 276.4 L850.17 276.4 L845.82 281.1 Z" fill="url(#tg)"/>
<rect x="840.97" y="712.6" width="11.70" height="1.5" rx="0.7" fill="#8c8782" fill-opacity="0.85"/>
<rect x="840.37" y="711.2" width="10.85" height="1.4" fill="#1f4a8c" fill-opacity="0.5"/>
<rect x="854.20" y="288.2" width="11.90" height="424.4" fill="url(#bg)"/>
<rect x="854.20" y="288.2" width="10.85" height="424.4" fill="url(#vg)"/>
<rect x="854.20" y="288.2" width="10.85" height="1" fill="#3c6ccc" fill-opacity="0.75"/>
<path d="M855.50 289.1 L864.00 289.1 L859.65 293.8 Z" fill="url(#tg)"/>
<rect x="854.80" y="712.6" width="11.70" height="1.5" rx="0.7" fill="#8c8782" fill-opacity="0.85"/>
<rect x="854.20" y="711.2" width="10.85" height="1.4" fill="#1f4a8c" fill-opacity="0.5"/>
<rect x="868.02" y="327.0" width="11.90" height="385.6" fill="url(#bg)"/>
<rect x="868.02" y="327.0" width="10.85" height="385.6" fill="url(#vg)"/>
<rect x="868.02" y="327.0" width="10.85" height="1" fill="#3c6ccc" fill-opacity="0.75"/>
<path d="M869.32 327.9 L877.82 327.9 L873.47 332.6 Z" fill="url(#tg)"/>
<rect x="868.62" y="712.6" width="11.70" height="1.5" rx="0.7" fill="#8c8782" fill-opacity="0.85"/>
<rect x="868.02" y="711.2" width="10.85" height="1.4" fill="#1f4a8c" fill-opacity="0.5"/>
<rect x="881.85" y="305.2" width="11.90" height="407.4" fill="url(#bg)"/>
<rect x="881.85" y="305.2" width="10.85" height="407.4" fill="url(#vg)"/>
<rect x="881.85" y="305.2" width="10.85" height="1" fill="#3c6ccc" fill-opacity="0.75"/>
<path d="M883.15 306.1 L891.65 306.1 L887.30 310.8 Z" fill="url(#tg)"/>
<rect x="882.45" y="712.6" width="11.70" height="1.5" rx="0.7" fill="#8c8782" fill-opacity="0.85"/>
<rect x="881.85" y="711.2" width="10.85" height="1.4" fill="#1f4a8c" fill-opacity="0.5"/>
<rect x="895.68" y="300.3" width="11.90" height="412.3" fill="url(#bg)"/>
<rect x="895.68" y="300.3" width="10.85" height="412.3" fill="url(#vg)"/>
<rect x="895.68" y="300.3" width="10.85" height="1" fill="#3c6ccc" fill-opacity="0.75"/>
<path d="M896.98 301.2 L905.48 301.2 L901.13 305.9 Z" fill="url(#tg)"/>
<rect x="896.28" y="712.6" width="11.70" height="1.5" rx="0.7" fill="#8c8782" fill-opacity="0.85"/>
<rect x="895.68" y="711.2" width="10.85" height="1.4" fill="#1f4a8c" fill-opacity="0.5"/>
<rect x="909.50" y="328.0" width="11.90" height="384.6" fill="url(#bg)"/>
<rect x="909.50" y="328.0" width="10.85" height="384.6" fill="url(#vg)"/>
<rect x="909.50" y="328.0" width="10.85" height="1" fill="#3c6ccc" fill-opacity="0.75"/>
<path d="M910.80 328.9 L919.30 328.9 L914.96 333.6 Z" fill="url(#tg)"/>
<rect x="910.11" y="712.6" width="11.70" height="1.5" rx="0.7" fill="#8c8782" fill-opacity="0.85"/>
<rect x="909.50" y="711.2" width="10.85" height="1.4" fill="#1f4a8c" fill-opacity="0.5"/>
<rect x="923.33" y="312.2" width="11.90" height="400.4" fill="url(#bg)"/>
<rect x="923.33" y="312.2" width="10.85" height="400.4" fill="url(#vg)"/>
<rect x="923.33" y="312.2" width="10.85" height="1" fill="#3c6ccc" fill-opacity="0.75"/>
<path d="M924.63 313.1 L933.13 313.1 L928.78 317.8 Z" fill="url(#tg)"/>
<rect x="923.93" y="712.6" width="11.70" height="1.5" rx="0.7" fill="#8c8782" fill-opacity="0.85"/>
<rect x="923.33" y="711.2" width="10.85" height="1.4" fill="#1f4a8c" fill-opacity="0.5"/>
<polyline points="154.31,268.91 168.14,290.87 181.97,293.06 195.79,246.95 209.62,266.71 223.45,260.12 237.28,288.67 251.10,264.52 264.93,249.14 278.76,275.50 292.58,266.71 306.41,279.89 320.24,275.50 334.06,260.12 347.89,282.08 361.72,273.30 375.55,271.10 389.37,257.93 403.20,277.69 417.03,295.26 430.85,284.28 444.68,295.26 458.51,293.06 472.33,301.85 486.16,323.81 499.99,334.79 513.82,339.18 527.64,347.96 541.47,332.59 555.30,268.91 569.12,304.04 582.95,304.04 596.78,321.61 610.60,321.61 624.43,319.42 638.26,339.18 652.09,332.59 665.91,339.18 679.74,345.77 693.57,352.36 707.39,354.55 721.22,350.16 735.05,361.14 748.87,363.34 762.70,358.94 776.53,394.08 790.36,387.49 804.18,400.67 818.01,411.65 831.84,407.26 845.66,411.65 859.49,422.63 873.32,451.18 887.14,438.00 900.97,438.00 914.80,457.76 928.63,448.98" fill="none" stroke="#000" stroke-width="7.6" stroke-linecap="round" stroke-linejoin="round"/>
<text x="247.55" y="113.3" font-size="19.6" font-weight="bold" text-anchor="start" textLength="62.20" lengthAdjust="spacingAndGlyphs">Figure</text>
<text x="315.05" y="113.3" font-size="19.6" font-weight="bold" text-anchor="start" textLength="41.45" lengthAdjust="spacingAndGlyphs">A-1.</text>
<text x="361.30" y="113.3" font-size="19.6" font-weight="bold" text-anchor="start" textLength="81.70" lengthAdjust="spacingAndGlyphs">Number</text>
<text x="450.05" y="113.3" font-size="19.6" font-weight="bold" text-anchor="start" textLength="20.95" lengthAdjust="spacingAndGlyphs">of</text>
<text x="476.30" y="113.3" font-size="19.6" font-weight="bold" text-anchor="start" textLength="75.95" lengthAdjust="spacingAndGlyphs">Movers</text>
<text x="557.55" y="113.3" font-size="19.6" font-weight="bold" text-anchor="start" textLength="37.95" lengthAdjust="spacingAndGlyphs">and</text>
<text x="601.30" y="113.3" font-size="19.6" font-weight="bold" text-anchor="start" textLength="65.95" lengthAdjust="spacingAndGlyphs">Mover</text>
<text x="673.80" y="113.3" font-size="19.6" font-weight="bold" text-anchor="start" textLength="52.70" lengthAdjust="spacingAndGlyphs">Rate:</text>
<text x="731.30" y="113.3" font-size="19.6" font-weight="bold" text-anchor="start" textLength="105.95" lengthAdjust="spacingAndGlyphs">1947-2012</text>
<text x="86.2" y="146.8" font-size="13.8" font-weight="bold" text-anchor="start" textLength="144.3" lengthAdjust="spacingAndGlyphs">Number (in thousands)</text>
<text x="936.0" y="144.5" font-size="13.8" font-weight="bold" text-anchor="start" textLength="73.0" lengthAdjust="spacingAndGlyphs">Mover Rate</text>
<text x="133.5" y="168.0" font-size="14" font-weight="normal" text-anchor="end" textLength="41.4" lengthAdjust="spacingAndGlyphs">50,000</text>
<text x="133.5" y="222.9" font-size="14" font-weight="normal" text-anchor="end" textLength="41.4" lengthAdjust="spacingAndGlyphs">45,000</text>
<text x="133.5" y="277.8" font-size="14" font-weight="normal" text-anchor="end" textLength="41.4" lengthAdjust="spacingAndGlyphs">40,000</text>
<text x="133.5" y="332.7" font-size="14" font-weight="normal" text-anchor="end" textLength="41.4" lengthAdjust="spacingAndGlyphs">35,000</text>
<text x="133.5" y="387.6" font-size="14" font-weight="normal" text-anchor="end" textLength="41.4" lengthAdjust="spacingAndGlyphs">30,000</text>
<text x="133.5" y="442.5" font-size="14" font-weight="normal" text-anchor="end" textLength="41.4" lengthAdjust="spacingAndGlyphs">25,000</text>
<text x="133.5" y="497.4" font-size="14" font-weight="normal" text-anchor="end" textLength="41.4" lengthAdjust="spacingAndGlyphs">20,000</text>
<text x="133.5" y="552.3" font-size="14" font-weight="normal" text-anchor="end" textLength="41.4" lengthAdjust="spacingAndGlyphs">15,000</text>
<text x="133.5" y="607.2" font-size="14" font-weight="normal" text-anchor="end" textLength="41.4" lengthAdjust="spacingAndGlyphs">10,000</text>
<text x="133.5" y="662.1" font-size="14" font-weight="normal" text-anchor="end" textLength="34.0" lengthAdjust="spacingAndGlyphs">5,000</text>
<text x="133.5" y="717.0" font-size="14" font-weight="normal" text-anchor="end" textLength="7.6000000000000005" lengthAdjust="spacingAndGlyphs">0</text>
<text x="950.0" y="168.0" font-size="14" font-weight="normal" text-anchor="start" textLength="27.0" lengthAdjust="spacingAndGlyphs">25.0</text>
<text x="950.0" y="277.8" font-size="14" font-weight="normal" text-anchor="start" textLength="27.0" lengthAdjust="spacingAndGlyphs">20.0</text>
<text x="950.0" y="387.6" font-size="14" font-weight="normal" text-anchor="start" textLength="27.0" lengthAdjust="spacingAndGlyphs">15.0</text>
<text x="950.0" y="497.4" font-size="14" font-weight="normal" text-anchor="start" textLength="27.0" lengthAdjust="spacingAndGlyphs">10.0</text>
<text x="950.0" y="607.2" font-size="14" font-weight="normal" text-anchor="start" textLength="19.6" lengthAdjust="spacingAndGlyphs">5.0</text>
<text x="950.0" y="717.0" font-size="14" font-weight="normal" text-anchor="start" textLength="19.6" lengthAdjust="spacingAndGlyphs">0.0</text>
<text transform="translate(154.56,728.85) rotate(-45)" x="0" y="4.9" font-size="13.7" font-weight="bold" text-anchor="end" textLength="65.8" lengthAdjust="spacingAndGlyphs">1947-1948</text>
<text transform="translate(182.22,728.85) rotate(-45)" x="0" y="4.9" font-size="13.7" font-weight="bold" text-anchor="end" textLength="65.8" lengthAdjust="spacingAndGlyphs">1949-1950</text>
<text transform="translate(209.87,728.85) rotate(-45)" x="0" y="4.9" font-size="13.7" font-weight="bold" text-anchor="end" textLength="65.8" lengthAdjust="spacingAndGlyphs">1951-1952</text>
<text transform="translate(237.53,728.85) rotate(-45)" x="0" y="4.9" font-size="13.7" font-weight="bold" text-anchor="end" textLength="65.8" lengthAdjust="spacingAndGlyphs">1953-1954</text>
<text transform="translate(265.18,728.85) rotate(-45)" x="0" y="4.9" font-size="13.7" font-weight="bold" text-anchor="end" textLength="65.8" lengthAdjust="spacingAndGlyphs">1955-1956</text>
<text transform="translate(292.83,728.85) rotate(-45)" x="0" y="4.9" font-size="13.7" font-weight="bold" text-anchor="end" textLength="65.8" lengthAdjust="spacingAndGlyphs">1957-1958</text>
<text transform="translate(320.49,728.85) rotate(-45)" x="0" y="4.9" font-size="13.7" font-weight="bold" text-anchor="end" textLength="65.8" lengthAdjust="spacingAndGlyphs">1959-1960</text>
<text transform="translate(348.14,728.85) rotate(-45)" x="0" y="4.9" font-size="13.7" font-weight="bold" text-anchor="end" textLength="65.8" lengthAdjust="spacingAndGlyphs">1961-1962</text>
<text transform="translate(375.80,728.85) rotate(-45)" x="0" y="4.9" font-size="13.7" font-weight="bold" text-anchor="end" textLength="65.8" lengthAdjust="spacingAndGlyphs">1963-1964</text>
<text transform="translate(403.45,728.85) rotate(-45)" x="0" y="4.9" font-size="13.7" font-weight="bold" text-anchor="end" textLength="65.8" lengthAdjust="spacingAndGlyphs">1965-1966</text>
<text transform="translate(431.10,728.85) rotate(-45)" x="0" y="4.9" font-size="13.7" font-weight="bold" text-anchor="end" textLength="65.8" lengthAdjust="spacingAndGlyphs">1967-1968</text>
<text transform="translate(458.76,728.85) rotate(-45)" x="0" y="4.9" font-size="13.7" font-weight="bold" text-anchor="end" textLength="65.8" lengthAdjust="spacingAndGlyphs">1969-1970</text>
<text transform="translate(486.41,728.85) rotate(-45)" x="0" y="4.9" font-size="13.7" font-weight="bold" text-anchor="end" textLength="65.8" lengthAdjust="spacingAndGlyphs">1975-1976</text>
<text transform="translate(514.07,728.85) rotate(-45)" x="0" y="4.9" font-size="13.7" font-weight="bold" text-anchor="end" textLength="65.8" lengthAdjust="spacingAndGlyphs">1981-1982</text>
<text transform="translate(541.72,728.85) rotate(-45)" x="0" y="4.9" font-size="13.7" font-weight="bold" text-anchor="end" textLength="65.8" lengthAdjust="spacingAndGlyphs">1983-1984</text>
<text transform="translate(569.37,728.85) rotate(-45)" x="0" y="4.9" font-size="13.7" font-weight="bold" text-anchor="end" textLength="65.8" lengthAdjust="spacingAndGlyphs">1985-1986</text>
<text transform="translate(597.03,728.85) rotate(-45)" x="0" y="4.9" font-size="13.7" font-weight="bold" text-anchor="end" textLength="65.8" lengthAdjust="spacingAndGlyphs">1987-1988</text>
<text transform="translate(624.68,728.85) rotate(-45)" x="0" y="4.9" font-size="13.7" font-weight="bold" text-anchor="end" textLength="65.8" lengthAdjust="spacingAndGlyphs">1989-1990</text>
<text transform="translate(652.34,728.85) rotate(-45)" x="0" y="4.9" font-size="13.7" font-weight="bold" text-anchor="end" textLength="65.8" lengthAdjust="spacingAndGlyphs">1991-1992</text>
<text transform="translate(679.99,728.85) rotate(-45)" x="0" y="4.9" font-size="13.7" font-weight="bold" text-anchor="end" textLength="65.8" lengthAdjust="spacingAndGlyphs">1993-1994</text>
<text transform="translate(707.64,728.85) rotate(-45)" x="0" y="4.9" font-size="13.7" font-weight="bold" text-anchor="end" textLength="65.8" lengthAdjust="spacingAndGlyphs">1995-1996</text>
<text transform="translate(735.30,728.85) rotate(-45)" x="0" y="4.9" font-size="13.7" font-weight="bold" text-anchor="end" textLength="65.8" lengthAdjust="spacingAndGlyphs">1997-1998</text>
<text transform="translate(762.95,728.85) rotate(-45)" x="0" y="4.9" font-size="13.7" font-weight="bold" text-anchor="end" textLength="65.8" lengthAdjust="spacingAndGlyphs">1999-2000</text>
<text transform="translate(790.61,728.85) rotate(-45)" x="0" y="4.9" font-size="13.7" font-weight="bold" text-anchor="end" textLength="65.8" lengthAdjust="spacingAndGlyphs">2001-2002</text>
<text transform="translate(818.26,728.85) rotate(-45)" x="0" y="4.9" font-size="13.7" font-weight="bold" text-anchor="end" textLength="65.8" lengthAdjust="spacingAndGlyphs">2003-2004</text>
<text transform="translate(845.91,728.85) rotate(-45)" x="0" y="4.9" font-size="13.7" font-weight="bold" text-anchor="end" textLength="65.8" lengthAdjust="spacingAndGlyphs">2005-2006</text>
<text transform="translate(873.57,728.85) rotate(-45)" x="0" y="4.9" font-size="13.7" font-weight="bold" text-anchor="end" textLength="65.8" lengthAdjust="spacingAndGlyphs">2007-2008</text>
<text transform="translate(901.22,728.85) rotate(-45)" x="0" y="4.9" font-size="13.7" font-weight="bold" text-anchor="end" textLength="65.8" lengthAdjust="spacingAndGlyphs">2009-2010</text>
<text transform="translate(928.88,728.85) rotate(-45)" x="0" y="4.9" font-size="13.7" font-weight="bold" text-anchor="end" textLength="65.8" lengthAdjust="spacingAndGlyphs">2011-2012</text>
<text x="549.3" y="800.6" font-size="13.8" font-weight="bold" text-anchor="start" textLength="28.0" lengthAdjust="spacingAndGlyphs">Year</text>
<text x="106.20" y="816.8" font-size="14" font-weight="normal" text-anchor="start" textLength="46.85" lengthAdjust="spacingAndGlyphs">Source:</text>
<text x="155.70" y="816.8" font-size="14" font-weight="normal" text-anchor="start" textLength="24.30" lengthAdjust="spacingAndGlyphs">U.S.</text>
<text x="183.50" y="816.8" font-size="14" font-weight="normal" text-anchor="start" textLength="43.80" lengthAdjust="spacingAndGlyphs">Census</text>
<text x="230.30" y="816.8" font-size="14" font-weight="normal" text-anchor="start" textLength="47.40" lengthAdjust="spacingAndGlyphs">Bureau,</text>
<text x="280.70" y="816.8" font-size="14" font-weight="normal" text-anchor="start" textLength="48.40" lengthAdjust="spacingAndGlyphs">Current</text>
<text x="332.10" y="816.8" font-size="14" font-weight="normal" text-anchor="start" textLength="66.70" lengthAdjust="spacingAndGlyphs">Population</text>
<text x="401.80" y="816.8" font-size="14" font-weight="normal" text-anchor="start" textLength="45.60" lengthAdjust="spacingAndGlyphs">Survey,</text>
<text x="451.30" y="816.8" font-size="14" font-weight="normal" text-anchor="start" textLength="69.40" lengthAdjust="spacingAndGlyphs">1948-2012.</text>
<rect x="992" y="379" width="30" height="9" fill="url(#lg)"/>
<path d="M993.2 380 L1021 380 L1018.2 383.1 L996.2 383.1 Z" fill="#8fd2ff"/>
<rect x="992" y="379.5" width="1" height="8.5" fill="#2c5aa8" fill-opacity="0.8"/>
<rect x="1021" y="379.5" width="1" height="8.5" fill="#274a88" fill-opacity="0.85"/>
<text x="1024.3" y="386.8" font-size="14" font-weight="normal" text-anchor="start" textLength="66.8" lengthAdjust="spacingAndGlyphs">Number of</text>
<text x="1024.3" y="405.6" font-size="14" font-weight="normal" text-anchor="start" textLength="45.8" lengthAdjust="spacingAndGlyphs">Movers</text>
<line x1="992.8" y1="458.5" x2="1020" y2="458.5" stroke="#000" stroke-width="7.2" stroke-linecap="round"/>
<text x="1024.3" y="463.2" font-size="14" font-weight="normal" text-anchor="start" textLength="69.2" lengthAdjust="spacingAndGlyphs">Mover rate</text>
<text x="988.7" y="775.5" font-family="Liberation Serif,serif" style="font-family:'Liberation Serif',serif;fill:#a51d3a" font-size="16.4" font-weight="bold" textLength="91.0" lengthAdjust="spacingAndGlyphs">United States</text>
<text x="1080.2" y="768.5" style="fill:#a51d3a" font-size="4" font-weight="bold">TM</text>
<text x="964.7" y="798.9" style="fill:#a51d3a;stroke:#a51d3a;stroke-width:0.9px;stroke-linejoin:round" font-size="39.9" font-weight="bold" textLength="115.8" lengthAdjust="spacingAndGlyphs">Census</text>
<line x1="968.8" y1="807.7" x2="1039.3" y2="807.7" stroke="#a51d3a" stroke-width="6" stroke-linecap="round"/>
<text x="1045.7" y="810" style="fill:#a51d3a" font-size="10.6" font-weight="bold" textLength="33.5" lengthAdjust="spacingAndGlyphs">Bureau</text>
</svg></body></html>
